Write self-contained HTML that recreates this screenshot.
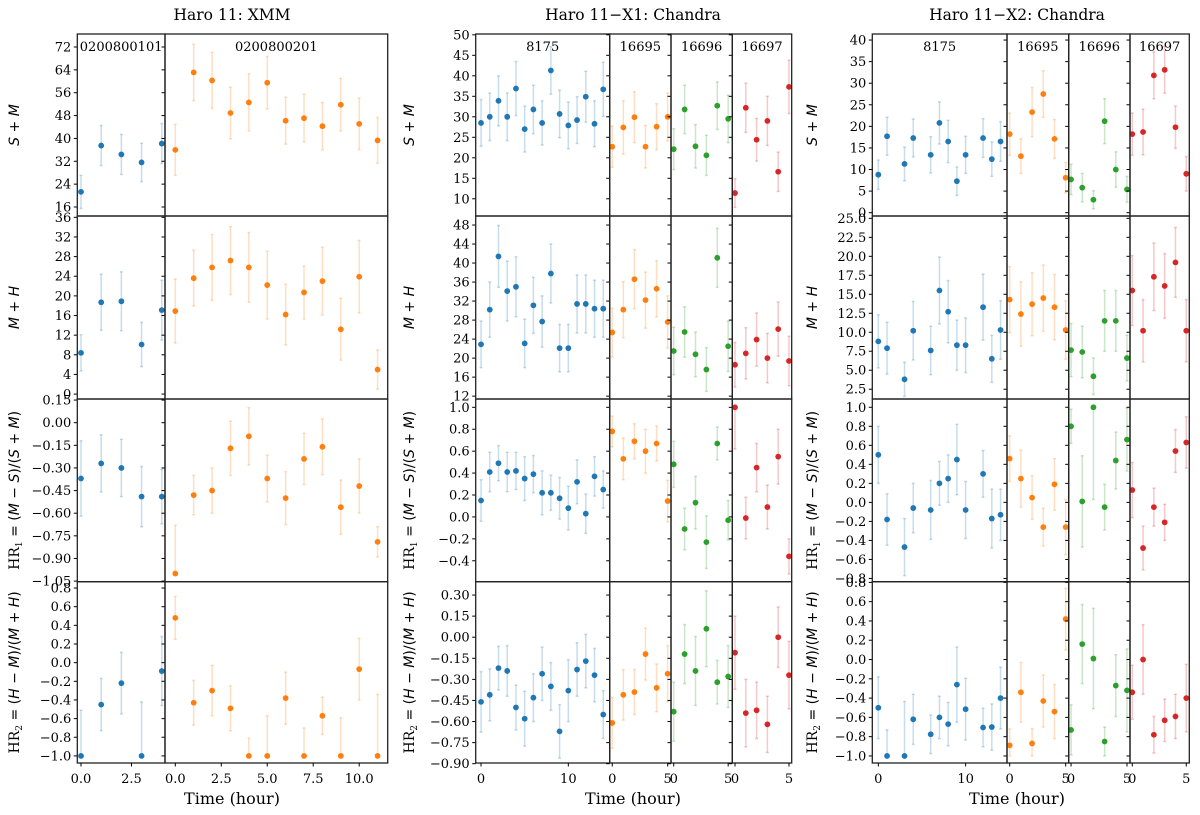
<!DOCTYPE html>
<html><head><meta charset="utf-8"><title>Haro 11 light curves</title>
<style>
html,body{margin:0;padding:0;background:#fff;}
svg{display:block;}
text{font-family:"DejaVu Serif","Liberation Serif",serif;fill:#000;}
</style></head>
<body>
<svg id="fig" width="1200" height="815" viewBox="0 0 1200 815" xmlns="http://www.w3.org/2000/svg"></svg>
<script>
// ---------- DATA ----------
const g1a_t=[0,1,2,3,4];
const g1a_sm=[21.3,37.5,34.4,31.6,38.2];
const g1a_smE=[5.8,7,7,6.7,7];
const g1a_mh=[8.4,18.7,18.9,10.1,17.1];
const g1a_mhE=[3.7,5.7,6,4.5,6.1];
const g1a_hr1=[-0.37,-0.27,-0.30,-0.49,-0.49];
const g1a_hr1E=[0.25,0.19,0.19,0.2,0.18];
const g1a_hr2=[-1,-0.45,-0.22,-1,-0.09];
const g1a_hr2E=[0.49,0.28,0.33,0.58,0.37];

const g1b_t=[0,1,2,3,4,5,6,7,8,9,10,11];
const g1b_sm=[36,63.1,60.3,48.9,52.6,59.5,46.2,47.1,44.3,51.8,45.1,39.3];
const g1b_smE=[8.9,9.9,9.8,9,10,9.2,8.2,8.4,8.3,9.2,9,8];
const g1b_mh=[16.9,23.6,25.8,27.2,25.8,22.2,16.2,20.7,23,13.2,23.9,5];
const g1b_mhE=[6.5,5.7,6.7,6.9,7.1,6.9,6.2,5.4,6.9,6.3,7.4,4];
const g1b_hr1=[-1,-0.48,-0.45,-0.17,-0.09,-0.37,-0.50,-0.24,-0.16,-0.56,-0.42,-0.79];
const g1b_hr1E=[0.32,0.13,0.15,0.18,0.19,0.155,0.175,0.17,0.185,0.18,0.18,0.1];
const g1b_hr2=[0.48,-0.43,-0.30,-0.49,-1,-1,-0.38,-1,-0.57,-1,-0.07,-1];
const g1b_hr2E=[0.23,0.24,0.27,0.24,0.19,0.43,0.28,0.3,0.2,0.41,0.33,0.66];

const g2a_t=[0,1,2,3,4,5,6,7,8,9,10,11,12,13,14];
const g2a_sm=[28.5,30,33.9,30,36.9,27,31.8,28.5,41.3,30.7,27.9,29.2,34.9,28.3,36.7];
const g2a_smE=[5.7,5.8,6.1,5.8,6.6,5.6,5.9,5.4,5.8,5.8,5.7,5.7,6.2,5.6,6.6];
const g2a_mh=[22.9,30.2,41.4,34.1,35,23.1,31.1,27.7,37.8,22.1,22.1,31.4,31.4,30.4,30.4];
const g2a_mhE=[4.9,5.8,6.5,6.3,6.3,5.1,5.9,5.4,6.2,5,5,6.1,6.1,6,6];
const g2a_hr1=[0.15,0.41,0.49,0.41,0.42,0.35,0.39,0.22,0.22,0.17,0.08,0.32,0.03,0.37,0.25];
const g2a_hr1E=[0.19,0.18,0.16,0.18,0.17,0.2,0.17,0.2,0.16,0.19,0.2,0.2,0.18,0.18,0.17];
const g2a_hr2=[-0.46,-0.41,-0.22,-0.24,-0.50,-0.58,-0.43,-0.26,-0.35,-0.67,-0.38,-0.23,-0.17,-0.27,-0.55];
const g2a_hr2E=[0.215,0.185,0.155,0.18,0.16,0.195,0.17,0.19,0.17,0.19,0.22,0.19,0.19,0.19,0.17];

const g2b_t=[0,1,2,3,4,5];
const g2b_sm=[22.7,27.4,29.9,22.7,27.6,30];
const g2b_smE=[5,6.5,6.2,5.2,5.6,5.8];
const g2b_mh=[25.4,30.2,36.6,32.2,34.6,27.6];
const g2b_mhE=[5.1,5.9,6.2,5.9,5.9,5.5];
const g2b_hr1=[0.78,0.53,0.69,0.60,0.67,0.145];
const g2b_hr1E=[0.14,0.19,0.16,0.2,0.16,0.19];
const g2b_hr2=[-0.61,-0.41,-0.39,-0.12,-0.36,-0.26];
const g2b_hr2E=[0.18,0.18,0.16,0.185,0.17,0.2];

const g2c_t=[0,1,2,3,4,5];
const g2c_sm=[22.1,31.8,22.8,20.6,32.7,29.5];
const g2c_smE=[5,5.9,5.3,4.9,5.8,5.8];
const g2c_mh=[21.5,25.5,20.8,17.6,41.1,22.5];
const g2c_mhE=[5,5.3,4.7,4.6,6.2,5.3];
const g2c_hr1=[0.48,-0.11,0.13,-0.23,0.67,-0.03];
const g2c_hr1E=[0.21,0.19,0.24,0.24,0.15,0.18];
const g2c_hr2=[-0.53,-0.12,-0.24,0.06,-0.32,-0.28];
const g2c_hr2E=[0.21,0.21,0.245,0.27,0.155,0.22];

const g2d_t=[0,1,2,3,4,5];
const g2d_sm=[11.4,32.2,24.4,29,16.6,37.3];
const g2d_smE=[3.5,6,5.2,6,4.8,6.5];
const g2d_mh=[18.6,21,23.9,20,26.1,19.4];
const g2d_mhE=[4.7,5.4,5.6,5.2,5.7,5.2];
const g2d_hr1=[1,-0.01,0.45,0.09,0.55,-0.36];
const g2d_hr1E=[0.38,0.19,0.22,0.2,0.25,0.16];
const g2d_hr2=[-0.11,-0.54,-0.52,-0.62,0.0,-0.27];
const g2d_hr2E=[0.26,0.24,0.2,0.2,0.215,0.24];

const g3a_t=[0,1,3,4,6,7,8,9,10,12,13,14];
const g3a_sm=[8.8,17.7,11.3,17.3,13.4,20.8,16.5,7.3,13.4,17.3,12.4,16.5];
const g3a_smE=[3.4,4.4,3.9,4.4,4.2,4.9,4.9,3.3,4.3,4.5,4,4.6];
const g3a_mh=[8.8,7.9,3.8,10.2,7.6,15.5,12.7,8.3,8.3,13.3,6.5,10.3];
const g3a_mhE=[3.5,3.4,2.25,3.85,3.2,4.4,4.1,3.3,3.6,4.35,3.1,3.85];
const g3a_hr1=[0.50,-0.18,-0.47,-0.06,-0.08,0.20,0.25,0.45,-0.08,0.30,-0.17,-0.13];
const g3a_hr1E=[0.3,0.27,0.3,0.26,0.31,0.23,0.25,0.37,0.3,0.245,0.31,0.27];
const g3a_hr2=[-0.5,-1,-1,-0.62,-0.775,-0.60,-0.67,-0.26,-0.515,-0.705,-0.70,-0.40];
const g3a_hr2E=[0.32,0.27,0.565,0.26,0.2,0.22,0.225,0.39,0.32,0.2,0.24,0.32];

const g3b_t=[0,1,2,3,4,5];
const g3b_sm=[18.2,13.1,23.3,27.5,17.1,8.1];
const g3b_smE=[4.9,4,5.7,5.4,4.5,3.5];
const g3b_mh=[14.3,12.4,13.7,14.5,13.3,10.3];
const g3b_mhE=[4.35,4.25,4.15,4.35,4.3,3.85];
const g3b_hr1=[0.46,0.25,0.05,-0.26,0.19,-0.26];
const g3b_hr1E=[0.24,0.3,0.23,0.2,0.27,0.29];
const g3b_hr2=[-0.89,-0.34,-0.87,-0.43,-0.54,0.42];
const g3b_hr2E=[0.17,0.31,0.155,0.27,0.28,0.32];

const g3c_t=[0,1,2,3,4,5];
const g3c_sm=[7.7,5.8,3,21.2,10,5.4];
const g3c_smE=[3.5,3.3,2.1,5.2,4.1,3];
const g3c_mh=[7.65,7.4,4.2,11.5,11.5,6.6];
const g3c_mhE=[3.5,3.4,2.4,4,4,3];
const g3c_hr1=[0.80,0.01,1.0,-0.05,0.44,0.66];
const g3c_hr1E=[0.18,0.48,0.97,0.24,0.3,0.33];
const g3c_hr2=[-0.73,0.16,0.01,-0.85,-0.27,-0.32];
const g3c_hr2E=[0.26,0.41,0.52,0.15,0.32,0.43];

const g3d_t=[0,1,2,3,4,5];
const g3d_sm=[18.2,18.7,31.8,33.1,19.8,9];
const g3d_smE=[4.9,5.3,5.4,5.4,4.9,4];
const g3d_mh=[15.5,10.2,17.3,16.1,19.2,10.2];
const g3d_mhE=[4.6,4.1,4.45,4.25,4.6,4.1];
const g3d_hr1=[0.13,-0.48,-0.05,-0.21,0.54,0.63];
const g3d_hr1E=[0.29,0.23,0.2,0.19,0.225,0.27];
const g3d_hr2=[-0.34,0.0,-0.78,-0.63,-0.59,-0.40];
const g3d_hr2E=[0.28,0.36,0.19,0.22,0.23,0.35];

// tick values
const g1_yticks=[[16,24,32,40,48,56,64,72],[0,4,8,12,16,20,24,28,32,36],[-1.05,-0.9,-0.75,-0.6,-0.45,-0.3,-0.15,0,0.15],[-1,-0.8,-0.6,-0.4,-0.2,0,0.2,0.4,0.6,0.8]];
const g1_ydec=[0,0,2,1];
const g2_yticks=[[10,15,20,25,30,35,40,45,50],[12,16,20,24,28,32,36,40,44,48],[-0.4,-0.2,0,0.2,0.4,0.6,0.8,1.0],[-0.9,-0.75,-0.6,-0.45,-0.3,-0.15,0,0.15,0.3]];
const g2_ydec=[0,0,1,2];
const g3_yticks=[[0,5,10,15,20,25,30,35,40],[2.5,5,7.5,10,12.5,15,17.5,20,22.5,25],[-0.8,-0.6,-0.4,-0.2,0,0.2,0.4,0.6,0.8,1.0],[-1,-0.8,-0.6,-0.4,-0.2,0,0.2,0.4,0.6,0.8]];
const g3_ydec=[0,1,1,1];
const xt_xmmA=[0,2.5], xt_xmmB=[0,2.5,5,7.5,10], xt_long=[0,10], xt_short=[0,5];

// ---------- LAYOUT ----------
const ROWS=[[34,216],[216,399],[399,581.7],[581.7,763]];
const C={blue:'#1f77b4',orange:'#ff7f0e',green:'#2ca02c',red:'#d62728'};
const groups=[
 {name:'xmm',title:'Haro 11: XMM',cx:232,ylx:19,yt:g1_yticks,yd:g1_ydec,
  ydom:[[12.85,76.55],[-1.0,36.27],[-1.054,0.157],[-1.076,0.868]],
  panels:[
   {id:'0200800101',x0:77.3,x1:165,d:[-0.183,4.16],c:C.blue,xt:xt_xmmA,xd:1,t:g1a_t,s:[[g1a_sm,g1a_smE],[g1a_mh,g1a_mhE],[g1a_hr1,g1a_hr1E],[g1a_hr2,g1a_hr2E]]},
   {id:'0200800201',x0:165,x1:387.7,d:[-0.56,11.55],c:C.orange,xt:xt_xmmB,xd:1,t:g1b_t,s:[[g1b_sm,g1b_smE],[g1b_mh,g1b_mhE],[g1b_hr1,g1b_hr1E],[g1b_hr2,g1b_hr2E]]}]},
 {name:'x1',title:'Haro 11\u2212X1: Chandra',cx:633,ylx:414,yt:g2_yticks,yd:g2_ydec,
  ydom:[[5.8,50.2],[11.4,49.9],[-0.591,1.076],[-0.895,0.395]],
  panels:[
   {id:'8175',x0:475.7,x1:609.7,d:[-0.61,14.74],c:C.blue,xt:xt_long,xd:0,t:g2a_t,s:[[g2a_sm,g2a_smE],[g2a_mh,g2a_mhE],[g2a_hr1,g2a_hr1E],[g2a_hr2,g2a_hr2E]]},
   {id:'16695',x0:609.7,x1:671,d:[-0.23,5.3],c:C.orange,xt:xt_short,xd:0,t:g2b_t,s:[[g2b_sm,g2b_smE],[g2b_mh,g2b_mhE],[g2b_hr1,g2b_hr1E],[g2b_hr2,g2b_hr2E]]},
   {id:'16696',x0:671,x1:732.3,d:[-0.25,5.38],c:C.green,xt:xt_short,xd:0,t:g2c_t,s:[[g2c_sm,g2c_smE],[g2c_mh,g2c_mhE],[g2c_hr1,g2c_hr1E],[g2c_hr2,g2c_hr2E]]},
   {id:'16697',x0:732.3,x1:791.7,d:[-0.25,5.25],c:C.red,xt:xt_short,xd:0,t:g2d_t,s:[[g2d_sm,g2d_smE],[g2d_mh,g2d_mhE],[g2d_hr1,g2d_hr1E],[g2d_hr2,g2d_hr2E]]}]},
 {name:'x2',title:'Haro 11\u2212X2: Chandra',cx:1017,ylx:817,yt:g3_yticks,yd:g3_ydec,
  ydom:[[-0.77,41.4],[1.21,25.31],[-0.834,1.087],[-1.073,0.807]],
  panels:[
   {id:'8175',x0:872.3,x1:1007,d:[-0.69,14.74],c:C.blue,xt:xt_long,xd:0,t:g3a_t,s:[[g3a_sm,g3a_smE],[g3a_mh,g3a_mhE],[g3a_hr1,g3a_hr1E],[g3a_hr2,g3a_hr2E]]},
   {id:'16695',x0:1007,x1:1068.7,d:[-0.24,5.27],c:C.orange,xt:xt_short,xd:0,t:g3b_t,s:[[g3b_sm,g3b_smE],[g3b_mh,g3b_mhE],[g3b_hr1,g3b_hr1E],[g3b_hr2,g3b_hr2E]]},
   {id:'16696',x0:1068.7,x1:1130,d:[-0.21,5.27],c:C.green,xt:xt_short,xd:0,t:g3c_t,s:[[g3c_sm,g3c_smE],[g3c_mh,g3c_mhE],[g3c_hr1,g3c_hr1E],[g3c_hr2,g3c_hr2E]]},
   {id:'16697',x0:1130,x1:1189.3,d:[-0.21,5.28],c:C.red,xt:xt_short,xd:0,t:g3d_t,s:[[g3d_sm,g3d_smE],[g3d_mh,g3d_mhE],[g3d_hr1,g3d_hr1E],[g3d_hr2,g3d_hr2E]]}]}
];
const ROWNAMES=['s-plus-m','m-plus-h','hr1','hr2'];

const NS='http://www.w3.org/2000/svg';
const svg=document.getElementById('fig');
function el(tag,attrs,parent){const e=document.createElementNS(NS,tag);for(const k in attrs)e.setAttribute(k,attrs[k]);(parent||svg).appendChild(e);return e;}
function fmt(v,d){let s=Math.abs(v).toFixed(d);if(v<-1e-9)s='\u2212'+s;return s;}
function xScale(p){return t=>p.x0+(t-p.d[0])*(p.x1-p.x0)/(p.d[1]-p.d[0]);}
function yScale(dom,r){const[y0,y1]=ROWS[r];return v=>y1-(v-dom[0])*(y1-y0)/(dom[1]-dom[0]);}

function ylabel(g,r){
  const cy=(ROWS[r][0]+ROWS[r][1])/2;
  const t=el('text',{x:g.ylx,y:cy,transform:`rotate(-90 ${g.ylx} ${cy})`,'text-anchor':'middle','font-size':14});
  
  
  const it='font-family:"DejaVu Sans",sans-serif;font-style:italic';
  const rm='font-family:"DejaVu Sans",sans-serif';
  let html;
  if(r===0) html=`<tspan style='${it}'>S</tspan><tspan style='${rm}'> + </tspan><tspan style='${it}'>M</tspan>`;
  else if(r===1) html=`<tspan style='${it}'>M</tspan><tspan style='${rm}'> + </tspan><tspan style='${it}'>H</tspan>`;
  else if(r===2) html=`<tspan>HR</tspan><tspan font-size="9" dy="3">1</tspan><tspan dy="-3" style='${rm}'> = (</tspan><tspan style='${it}'>M</tspan><tspan style='${rm}'> − </tspan><tspan style='${it}'>S</tspan><tspan style='${rm}'>)/(</tspan><tspan style='${it}'>S</tspan><tspan style='${rm}'> + </tspan><tspan style='${it}'>M</tspan><tspan style='${rm}'>)</tspan>`;
  else html=`<tspan>HR</tspan><tspan font-size="9" dy="3">2</tspan><tspan dy="-3" style='${rm}'> = (</tspan><tspan style='${it}'>H</tspan><tspan style='${rm}'> − </tspan><tspan style='${it}'>M</tspan><tspan style='${rm}'>)/(</tspan><tspan style='${it}'>M</tspan><tspan style='${rm}'> + </tspan><tspan style='${it}'>H</tspan><tspan style='${rm}'>)</tspan>`;
  t.innerHTML=html;
}

groups.forEach((g,gi)=>{
  const gg=el('g',{});
  
  
  const title=el('text',{x:g.cx,y:20,'text-anchor':'middle','font-size':15.5},gg);
  title.textContent=g.title;
  
  
  const xl=el('text',{x:g.cx,y:804,'text-anchor':'middle','font-size':16},gg);
  xl.textContent='Time (hour)';
  
  
  for(let r=0;r<4;r++) ylabel(g,r);
  g.panels.forEach((p,pi)=>{
    const X=xScale(p);
    const pg=el('g',{},gg);
    
    
    const lab=el('text',{x:(p.x0+p.x1)/2,y:51,'text-anchor':'middle','font-size':13},pg);
    lab.textContent=p.id;
    
    
    for(let r=0;r<4;r++){
      const Y=yScale(g.ydom[r],r);
      const [y0,y1]=ROWS[r];
      const ax=el('g',{},pg);
      
      
      g.yt[r].forEach(v=>{
        const yy=Y(v);
        if(yy<y0-2||yy>y1+2)return;
        const tk=el('line',{x1:p.x0-3.5,x2:p.x0,y1:yy,y2:yy,stroke:'#000','stroke-width':1},ax);
        
        
        if(pi===0){
          const tl=el('text',{x:p.x0-6,y:yy+4.5,'text-anchor':'end','font-size':13},ax);
          tl.textContent=fmt(v,g.yd[r]);
          
          
        }
      });
      const vals=p.s[r][0], errs=p.s[r][1];
      const isHR=r>=2;
      p.t.forEach((t,i)=>{
        const xx=X(t);
        let lo=vals[i]-errs[i], hi=vals[i]+errs[i];
        if(isHR){lo=Math.max(lo,-1);hi=Math.min(hi,1);}
        const eg=el('g',{stroke:p.c,'stroke-opacity':0.25,'stroke-width':1.5},ax);
        
        
        el('line',{x1:xx,x2:xx,y1:Y(lo),y2:Y(hi)},eg);
        el('line',{x1:xx-1.5,x2:xx+1.5,y1:Y(lo),y2:Y(lo)},eg);
        el('line',{x1:xx-1.5,x2:xx+1.5,y1:Y(hi),y2:Y(hi)},eg);
        const pt=el('circle',{cx:xx,cy:Y(vals[i]),r:2.9,fill:p.c},ax);
        
        
      });
      const fr=el('rect',{x:p.x0,y:y0,width:p.x1-p.x0,height:y1-y0,fill:'none',stroke:'#222','stroke-width':1.3},ax);
      
      
    }
    p.xt.forEach(v=>{
      const xx=X(v);
      const tk=el('line',{x1:xx,x2:xx,y1:763,y2:766.5,stroke:'#000','stroke-width':1},pg);
      
      
      const tl=el('text',{x:xx,y:783,'text-anchor':'middle','font-size':13},pg);
      tl.textContent=fmt(v,p.xd);
      
      
    });
  });
});
</script>
</body></html>
